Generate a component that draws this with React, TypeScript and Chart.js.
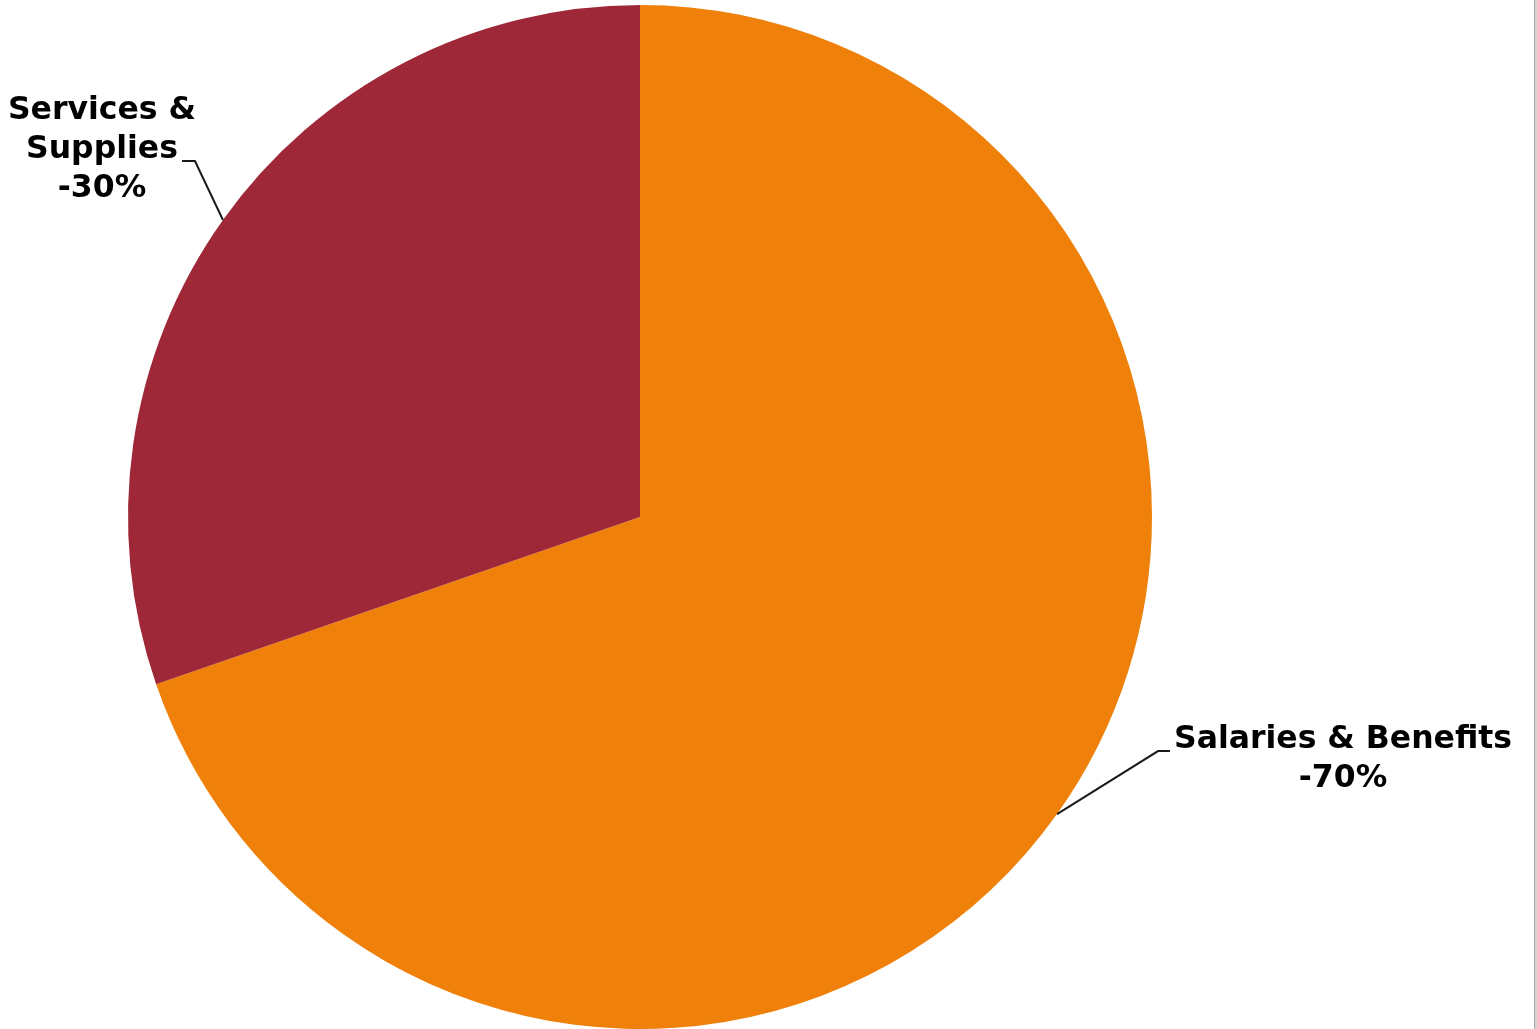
import React, { useEffect, useRef } from "react";
import { Chart, registerables } from "chart.js";

Chart.register(...registerables);

const categories = ["Salaries & Benefits", "Services & Supplies"];
const values = [69.7, 30.3];
const labelLines = [["Salaries & Benefits", "-70%"], ["Services &", "Supplies", "-30%"]];
const colors = ["#EF810B", "#9E2837"];

const labelPlugin = {
  id: "leaderLabels",
  afterDatasetsDraw(chart: any) {
    const ctx = chart.ctx;
    const meta = chart.getDatasetMeta(0);
    ctx.save();
    ctx.font = "bold 31.5px 'DejaVu Sans', Verdana, sans-serif";
    ctx.fillStyle = "#000";
    ctx.strokeStyle = "#1a1a1a";
    ctx.lineWidth = 2;
    ctx.textAlign = "center";
    ctx.textBaseline = "middle";
    meta.data.forEach((arc: any, i: number) => {
      const { x, y, startAngle, endAngle, outerRadius } = arc.getProps(
        ["x", "y", "startAngle", "endAngle", "outerRadius"],
        true
      );
      const mid = (startAngle + endAngle) / 2;
      const px = x + Math.cos(mid) * outerRadius;
      const py = y + Math.sin(mid) * outerRadius;
      const right = Math.cos(mid) >= 0;
      let ex: number, ey: number, hx: number, tx: number, ty: number;
      if (right) {
        ex = px + 101;
        ey = py - 63;
        hx = ex + 12;
        tx = ex + 185;
        ty = ey - 11;
      } else {
        ex = px - 28;
        ey = py - 59;
        hx = ex - 13;
        tx = ex - 93;
        ty = ey - 50;
      }
      ctx.beginPath();
      ctx.moveTo(px, py);
      ctx.lineTo(ex, ey);
      ctx.lineTo(hx, ey);
      ctx.stroke();
      const lines = labelLines[i];
      lines.forEach((t: string, k: number) => {
        ctx.fillText(t, tx, ty + k * 39);
      });
    });
    ctx.restore();
  },
};

export default function App() {
  const ref = useRef<HTMLCanvasElement>(null);
  useEffect(() => {
    document.body.style.margin = "0";
    const chart = new Chart(ref.current!, {
      type: "pie",
      data: {
        labels: categories,
        datasets: [
          {
            data: values,
            backgroundColor: colors,
            borderWidth: 0,
          },
        ],
      },
      options: {
        animation: false,
        responsive: false,
        layout: { padding: { left: 128, right: 385, top: 5, bottom: 0 } },
        plugins: {
          legend: { display: false },
          tooltip: { enabled: false },
        },
      },
      plugins: [labelPlugin],
    });
    return () => chart.destroy();
  }, []);
  return (
    <div style={{ position: "relative", width: 1537, height: 1029, background: "#fff" }}>
      <canvas ref={ref} width={1537} height={1029} style={{ display: "block" }} />
      <div
        style={{
          position: "absolute",
          left: 1534,
          top: 0,
          width: 3,
          height: 1029,
          background: "#d6d3cc",
          borderLeft: "1px solid #a8a8a8",
          boxSizing: "border-box",
        }}
      />
    </div>
  );
}
